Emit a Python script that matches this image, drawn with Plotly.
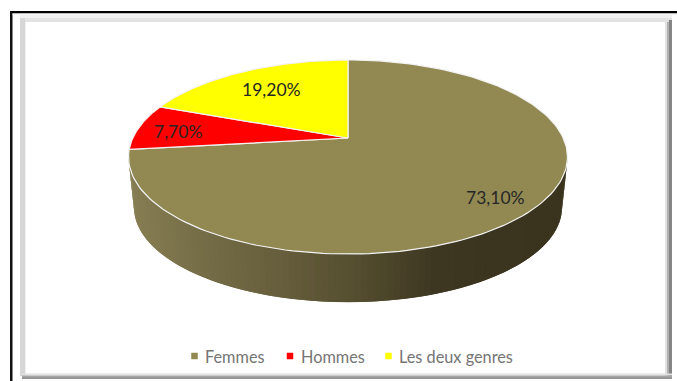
import numpy as np
import plotly.graph_objects as go

# ---- data ----
categories = ["Femmes", "Hommes", "Les deux genres"]
values = [73.1, 7.7, 19.2]
labels = ["73,10%", "7,70%", "19,20%"]
colors = ["#928952", "#FF0000", "#FFFF00"]

W, H = 677, 381
CX, CY = 348.0, 138.0       # apex of the pie on the page
F, G, K = 215.2, 93.3, 0.196  # perspective of the disc
DEPTH_CY, DEPTH_SCALE = 189.0, 0.975
LABEL_R = [0.82, 0.81, 0.70]
LABEL_DY = [3, 3, 0]


def project(theta_deg, r=1.0, cy=CY, s=1.0):
    t = np.radians(theta_deg)
    X, Y = r * np.sin(t), -r * np.cos(t)
    d = 1 - K * Y
    return CX + s * F * X / d, cy + s * G * Y / d


def side_color(x):
    stops_x = [130, 200, 280, 350, 430, 470, 570]
    r = [136, 118, 102, 86, 62, 60, 58]
    g = [127, 110, 94, 79, 56, 53, 52]
    b = [84, 71, 60, 48, 34, 32, 31]
    return "rgb(%d,%d,%d)" % (np.interp(x, stops_x, r), np.interp(x, stops_x, g), np.interp(x, stops_x, b))


fig = go.Figure()

# side wall (front of the first slice only is visible)
right_limit = np.degrees(np.arccos(-K))
edges = np.linspace(right_limit, 360 - right_limit, 111)
for i in range(len(edges) - 1):
    a0 = edges[i]
    a1 = edges[min(i + 2, len(edges) - 1)]  # overlap the next strip to hide seams
    arc = np.linspace(a0, a1, 5)
    xt, yt = project(arc)
    xb, yb = project(arc, cy=DEPTH_CY, s=DEPTH_SCALE)
    col = side_color(xb.mean())
    fig.add_trace(go.Scatter(
        x=np.r_[xt, xb[::-1], xt[0]],
        y=np.r_[yt, yb[::-1], yt[0]],
        mode="lines", fill="toself", fillcolor=col,
        line=dict(width=0), hoverinfo="skip", showlegend=False))

# top faces
start = 0.0
mids = []
for cat, v, c in zip(categories, values, colors):
    end = start + v / sum(values) * 360
    arc = np.linspace(start, end, 160)
    x, y = project(arc)
    fig.add_trace(go.Scatter(
        x=np.r_[CX, x, CX], y=np.r_[CY, y, CY], mode="lines", fill="toself",
        fillcolor=c, line=dict(color="#F2F2F2", width=1.2), name=cat,
        hoverinfo="name", showlegend=False))
    mids.append((start + end) / 2)
    start = end

# data labels
for m, r, dy, t in zip(mids, LABEL_R, LABEL_DY, labels):
    lx, ly = project(m, r=r)
    fig.add_annotation(x=float(lx), y=float(ly) + dy, text=t, showarrow=False,
                       font=dict(family="Lato", size=17.5, color="#262626"))

# legend row
legend_marker_x = [194.5, 290, 388.5]
legend_y = 356
for lx, cat, c in zip(legend_marker_x, categories, colors):
    fig.add_trace(go.Scatter(x=[lx], y=[legend_y], mode="markers",
                             marker=dict(symbol="square", size=6.5, color=c),
                             hoverinfo="skip", showlegend=False))
    fig.add_annotation(x=lx + 8.5, y=legend_y, text=cat, showarrow=False, xanchor="left",
                       font=dict(family="Lato", size=16.3, color="#757575"))


def rect(x0, y0, x1, y1, color):
    return dict(type="rect", xref="x", yref="y", x0=x0, y0=y0, x1=x1, y1=y1,
                fillcolor=color, line=dict(width=0), layer="below")


frame = [
    rect(10, 11, W, 13.5, "#000000"),
    rect(10, 11, 12.5, H, "#111111"),
    rect(12.5, 13.5, W, 15, "#f6f6f6"),
    rect(20, 15, 672, 18, "#f0f0f0"),
    rect(20, 18, 672, 22, "#e2e2e2"),
    rect(20, 18, 25, 376, "#d6d6d6"),
    rect(25, 22, 26, 375, "#efefef"),
    rect(665, 22, 667, 376, "#e2e2e2"),
    rect(667, 22, 669, 376, "#b0b0b0"),
    rect(669, 20, 672, 378, "#858585"),
    rect(22, 373.5, 672, 375.5, "#e2e2e2"),
    rect(22, 375.5, 672, 377, "#a6a6a6"),
    rect(22, 377, 672, 379, "#969696"),
]

fig.update_layout(
    width=W, height=H, margin=dict(l=0, r=0, t=0, b=0),
    paper_bgcolor="white", plot_bgcolor="white", showlegend=False,
    xaxis=dict(range=[0, W], visible=False, fixedrange=True),
    yaxis=dict(range=[H, 0], visible=False, fixedrange=True),
    shapes=frame,
)
fig.write_html("out.html", config={"displayModeBar": False},
               post_script="document.body.style.margin='0';document.body.style.overflow='hidden';")
